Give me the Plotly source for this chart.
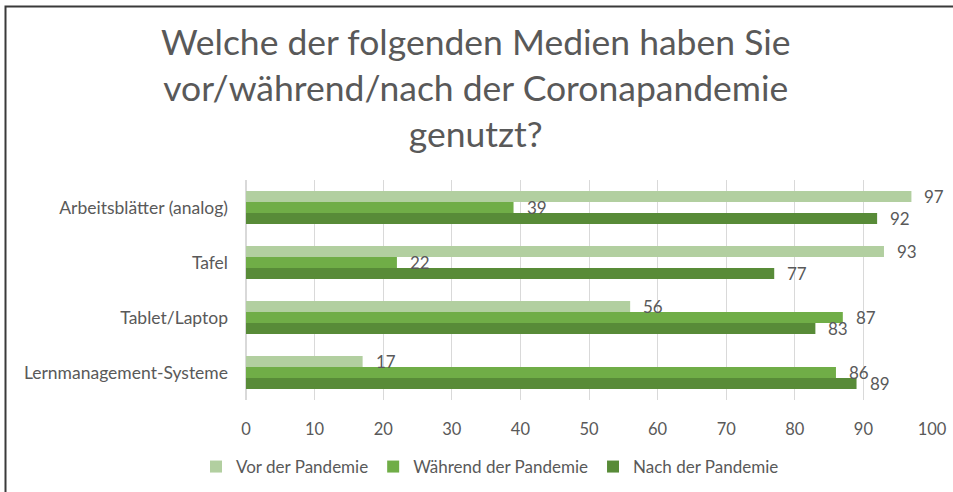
import plotly.graph_objects as go

categories = ["Arbeitsblätter (analog)", "Tafel", "Tablet/Laptop", "Lernmanagement-Systeme"]
series_names = ["Vor der Pandemie", "Während der Pandemie", "Nach der Pandemie"]
vor = [97, 93, 56, 17]
waehrend = [39, 22, 87, 86]
nach = [92, 77, 83, 89]
colors = ["#B2CFA0", "#70AD47", "#588B38"]
x_ticks = list(range(0, 101, 10))

title_text = "Welche der folgenden Medien haben Sie<br>vor/während/nach der Coronapandemie<br>genutzt?"
FONT = "Lato, Calibri, Carlito, sans-serif"
TXT = "#595959"

L, R, T, B = 246, 21, 180, 92
PW, PH = 953 - L - R, 492 - T - B

fig = go.Figure()
all_series = [vor, waehrend, nach]
for name, vals, col in zip(series_names, all_series, colors):
    fig.add_trace(go.Bar(
        y=categories, x=vals, name=name, orientation="h",
        marker=dict(color=col, line=dict(width=0)),
        hoverinfo="x+name",
    ))

# data labels, one per bar, offset to its slot in the group
bar_px = 11
shifts = [bar_px, 0, -bar_px]
for vals, ys in zip(all_series, shifts):
    for cat, v in zip(categories, vals):
        fig.add_annotation(
            x=v, y=cat, xref="x", yref="y", text=str(v), showarrow=False,
            xanchor="left", yanchor="middle", xshift=12, yshift=ys,
            borderpad=0,
            font=dict(family=FONT, size=17, color=TXT),
        )

# chart title
fig.add_annotation(
    text=title_text, showarrow=False, xref="paper", yref="paper",
    x=(476 - L) / PW, y=(T + PH - 87) / PH, xanchor="center", yanchor="middle",
    align="center", font=dict(family=FONT, size=35.5, color=TXT),
)

fig.update_layout(
    width=953, height=492,
    paper_bgcolor="white", plot_bgcolor="white",
    barmode="group", bargap=0.4, bargroupgap=0,
    margin=dict(l=L, r=R, t=T, b=B, autoexpand=False),
    font=dict(family=FONT, color=TXT),
    legend=dict(
        orientation="h", x=(490 - L) / PW, xanchor="center",
        y=(T + PH - 467) / PH, yanchor="middle",
        font=dict(family=FONT, size=17, color=TXT),
        traceorder="normal",
    ),
    xaxis=dict(
        range=[0, 100], tickvals=x_ticks, showgrid=True, gridcolor="#D9D9D9",
        gridwidth=1, zeroline=True, zerolinecolor="#D9D9D9", showline=False,
        ticks="", ticklabelstandoff=17, tickfont=dict(family=FONT, size=16.5, color=TXT),
        fixedrange=True, automargin=False,
    ),
    yaxis=dict(
        autorange="reversed", showgrid=False, showline=False, ticks="",
        ticklabelstandoff=17, tickfont=dict(family=FONT, size=17.5, color=TXT),
        fixedrange=True, automargin=False,
    ),
    shapes=[dict(
        type="rect", xref="paper", yref="paper",
        x0=(5.5 - L) / PW, x1=(970 - L) / PW,
        y0=(T + PH - 510) / PH, y1=(T + PH - 6.5) / PH,
        line=dict(color="#3a3a3a", width=2), fillcolor="rgba(0,0,0,0)", layer="above",
    )],
)

fig.write_html(
    "out.html",
    config={"displayModeBar": False},
    post_script="document.body.style.margin='0';document.body.style.overflow='hidden';",
)
